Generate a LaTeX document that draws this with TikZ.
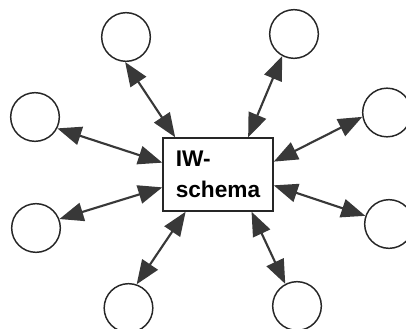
\documentclass[tikz,border=0pt]{standalone}
\usepackage{fontspec}
\setmainfont{Liberation Sans}
\usetikzlibrary{arrows.meta}
\begin{document}
\begin{tikzpicture}[x=0.75pt,y=-0.75pt,
  satellite/.style={circle,draw=black!85,line width=1.1pt,minimum size=36.5pt,inner sep=0pt},
  schemabox/.style={draw=black!85,line width=1.1pt,minimum width=82.5pt,minimum height=54.75pt,
    align=left,font=\bfseries\fontsize{17}{23}\selectfont,inner sep=0pt},
  tip/.tip={Triangle[length=18pt 0 0,width=14pt 0 0]},
  link/.style={draw=black!78,line width=1.6pt,tip-tip}]
\useasboundingbox (0,0) rectangle (406,328);
\node[schemabox] (box) at (218,174.5) {IW-\\schema};
\node[satellite] (tl) at (126,37) {};
\node[satellite] (tr) at (294,34) {};
\node[satellite] (lu) at (35,117) {};
\node[satellite] (ru) at (387,112.5) {};
\node[satellite] (ll) at (36,228) {};
\node[satellite] (rl) at (389,224) {};
\node[satellite] (bl) at (128.5,308) {};
\node[satellite] (br) at (297,306) {};
\draw[link] (tl.268) -- (box.139.7);
\draw[link] (tr.242.4) -- (box.51.5);
\draw[link] (lu.333.4) -- (box.168.2);
\draw[link] (ru.190.6) -- (box.13.8);
\draw[link] (ll.21) -- (box.193.8);
\draw[link] (rl.161.6) -- (box.349.2);
\draw[link] (bl.71.9) -- (box.229.8);
\draw[link] (br.118.3) -- (box.312);
\end{tikzpicture}
\end{document}
